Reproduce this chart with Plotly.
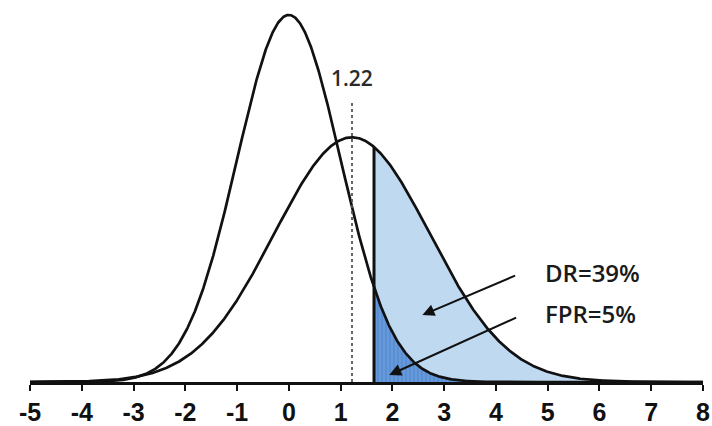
import numpy as np
import plotly.graph_objects as go

# Distribution parameters (unaffected / affected populations)
means = [0.0, 1.22]
sds = [1.0, 1.5]
cutoff = 1.645          # 5% false-positive threshold
mean_label = "1.22"
dr_text = "DR=39%"
fpr_text = "FPR=5%"
tick_vals = list(range(-5, 9))
tick_text = [str(v) for v in tick_vals]

x = np.linspace(-5, 8, 1301)


def pdf(v, m, s):
    return np.exp(-0.5 * ((v - m) / s) ** 2) / (s * np.sqrt(2 * np.pi))


y0 = pdf(x, means[0], sds[0])
y1 = pdf(x, means[1], sds[1])
tail = x >= cutoff
xt = np.concatenate([[cutoff], x[tail]])
y0t = np.concatenate([[pdf(cutoff, means[0], sds[0])], y0[tail]])
y1t = np.concatenate([[pdf(cutoff, means[1], sds[1])], y1[tail]])

fig = go.Figure()

# detection-rate area under the affected curve
fig.add_trace(go.Scatter(x=xt, y=y1t, mode="lines", line=dict(width=0),
                         fill="tozeroy", fillcolor="#bfd9f0", hoverinfo="skip"))
# false-positive area under the unaffected curve
fig.add_trace(go.Scatter(x=xt, y=y0t, mode="lines", line=dict(width=0),
                         fill="tozeroy", fillcolor="#5b8fd4",
                         fillpattern=dict(shape="|", fgcolor="#80b2e8", size=4, solidity=0.3),
                         hoverinfo="skip"))

# the two density curves
for yy in (y0, y1):
    fig.add_trace(go.Scatter(x=x, y=yy, mode="lines",
                             line=dict(color="#111111", width=2.7), hoverinfo="skip"))

# threshold line
fig.add_trace(go.Scatter(x=[cutoff, cutoff], y=[0, pdf(cutoff, means[1], sds[1])],
                         mode="lines", line=dict(color="#111111", width=3), hoverinfo="skip"))

# dotted line at the affected mean
fig.add_trace(go.Scatter(x=[means[1], means[1]], y=[0, 0.306], mode="lines",
                         line=dict(color="#555555", width=1.8, dash="dot"), hoverinfo="skip"))

fig.add_annotation(x=means[1], y=0.33, text=mean_label, showarrow=False,
                   font=dict(family="Open Sans", size=21, color="#2a2a2a", weight=600))

# rate labels with arrows into the shaded areas
fig.add_annotation(x=4.9, y=0.1195, text=dr_text, showarrow=False, xanchor="left",
                   font=dict(family="Open Sans", size=24, color="#1a1a1a", weight=600))
fig.add_annotation(x=4.9, y=0.0740, text=fpr_text, showarrow=False, xanchor="left",
                   font=dict(family="Open Sans", size=24, color="#1a1a1a", weight=600))
fig.add_annotation(x=2.58, y=0.0728, ax=4.40, ay=0.1163, axref="x", ayref="y",
                   xref="x", yref="y", text="", showarrow=True, arrowhead=2,
                   arrowsize=1.2, arrowwidth=2, arrowcolor="#111111")
fig.add_annotation(x=1.94, y=0.0076, ax=4.42, ay=0.0707, axref="x", ayref="y",
                   xref="x", yref="y", text="", showarrow=True, arrowhead=2,
                   arrowsize=1.2, arrowwidth=2, arrowcolor="#111111")

fig.update_layout(
    width=712, height=426,
    margin=dict(l=30, r=9, t=9, b=44, autoexpand=False),
    paper_bgcolor="white", plot_bgcolor="white",
    showlegend=False,
)
fig.update_xaxes(range=[-5, 8], tickvals=tick_vals, ticktext=tick_text,
                 automargin=False,
                 showgrid=False, zeroline=False, showline=True, linecolor="#111111",
                 linewidth=2.5, ticks="outside", ticklen=6, tickwidth=1.5,
                 tickcolor="#111111",
                 tickfont=dict(family="Liberation Sans", size=25, color="#111111",
                               weight="bold"))
fig.update_yaxes(range=[0, 0.4054], visible=False, showgrid=False, zeroline=False,
                 automargin=False)

fig.write_html("out.html")
